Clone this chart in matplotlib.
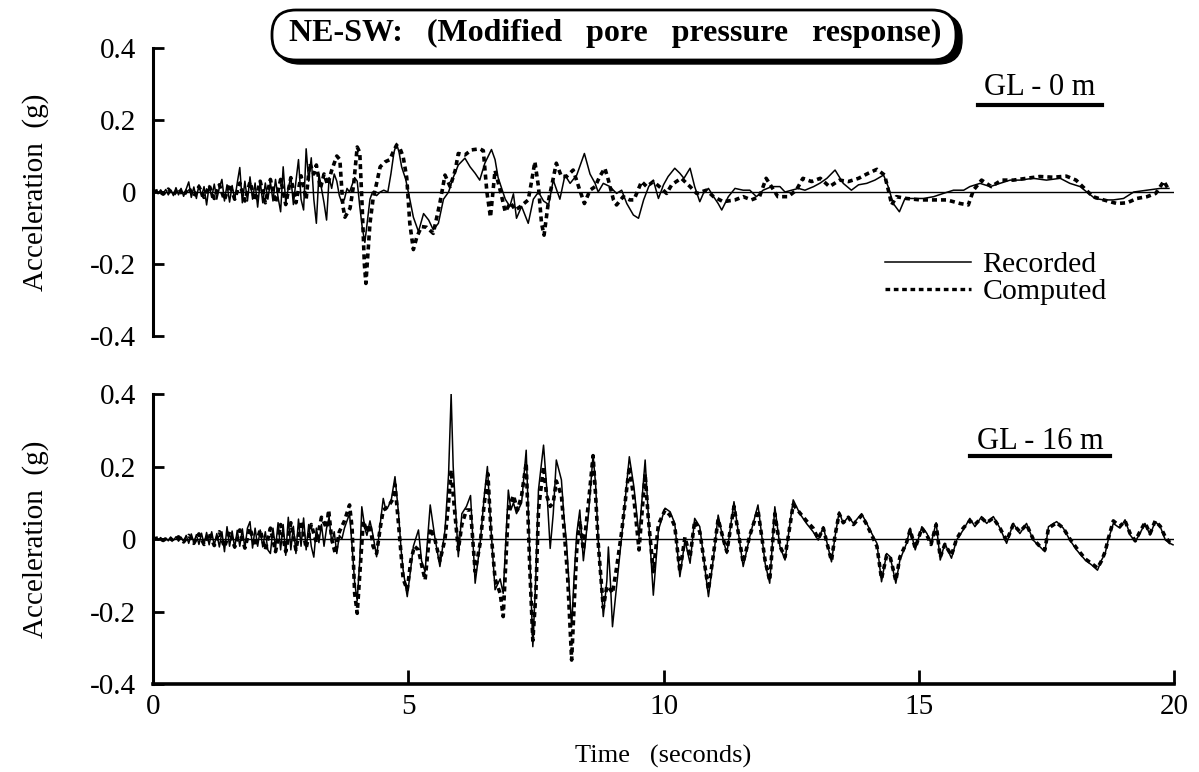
import matplotlib
matplotlib.use('Agg')
import matplotlib.pyplot as plt
from matplotlib.lines import Line2D
from matplotlib.patches import FancyBboxPatch
from matplotlib.transforms import IdentityTransform

TITLE = 'NE-SW:   (Modified   pore   pressure   response)'
DEPTH_LABELS = ['GL - 0 m', 'GL - 16 m']
SERIES_NAMES = ['Recorded', 'Computed']
Y_TICKS = [0.4, 0.2, 0.0, -0.2, -0.4]
Y_TICK_LABELS = ['0.4', '0.2', '0', '-0.2', '-0.4']
X_TICKS = [0, 5, 10, 15, 20]

# ---- GL - 0 m, recorded ----
rec0_t = [0.00, 0.05, 0.10, 0.15, 0.20, 0.25, 0.30, 0.35, 0.40, 0.45, 0.50, 0.55, 0.60, 0.65,
          0.70, 0.75, 0.80, 0.85, 0.90, 0.95, 1.00, 1.05, 1.10, 1.15, 1.20, 1.25, 1.30, 1.35,
          1.40, 1.45, 1.50, 1.55, 1.60, 1.65, 1.70, 1.75, 1.80, 1.85, 1.90, 1.95, 2.00, 2.05,
          2.10, 2.15, 2.20, 2.25, 2.30, 2.35, 2.40, 2.45, 2.50, 2.55, 2.60, 2.65, 2.70, 2.75,
          2.80, 2.85, 2.90, 2.95, 3.00, 3.05, 3.10, 3.15, 3.20, 3.25, 3.30, 3.35, 3.40, 3.45,
          3.50, 3.55, 3.60, 3.65, 3.70, 3.75, 3.80, 3.85, 3.90, 3.95, 4.00, 4.05, 4.10, 4.15,
          4.20, 4.25, 4.30, 4.38, 4.45, 4.52, 4.60, 4.66, 4.72, 4.77, 4.82, 4.87, 4.95, 5.03,
          5.10, 5.20, 5.30, 5.40, 5.49, 5.59, 5.69, 5.79, 5.88, 5.98, 6.11, 6.21, 6.31, 6.40,
          6.50, 6.63, 6.70, 6.76, 6.90, 6.99, 7.06, 7.12, 7.22, 7.35, 7.45, 7.55, 7.65, 7.75,
          7.84, 7.97, 8.07, 8.17, 8.30, 8.45, 8.56, 8.66, 8.72, 8.82, 8.95, 9.08, 9.18, 9.28,
          9.41, 9.51, 9.61, 9.71, 9.80, 9.90, 10.00, 10.09, 10.22, 10.32, 10.40, 10.52, 10.61,
          10.71, 10.78, 10.88, 10.98, 11.07, 11.14, 11.27, 11.40, 11.56, 11.69, 11.82, 11.95,
          12.12, 12.28, 12.38, 12.51, 12.64, 12.77, 12.94, 13.07, 13.20, 13.36, 13.52, 13.68,
          13.82, 13.98, 14.14, 14.31, 14.40, 14.50, 14.62, 14.73, 14.90, 15.09, 15.29, 15.48,
          15.68, 15.88, 16.00, 16.20, 16.40, 16.59, 16.79, 16.98, 17.24, 17.50, 17.77, 17.96,
          18.16, 18.29, 18.45, 18.62, 18.81, 19.01, 19.21, 19.47, 19.73, 19.90]
rec0_a = [0.000, 0.004, -0.005, 0.006, -0.004, 0.007, -0.008, 0.005, -0.010, 0.012, -0.008, 0.010,
          -0.012, 0.008, 0.028, -0.015, 0.014, -0.018, 0.020, -0.012, 0.015, -0.036, 0.018, -0.015,
          0.022, -0.020, 0.012, 0.035, -0.025, 0.020, -0.028, 0.018, -0.022, 0.025, 0.068, -0.030,
          0.030, -0.025, 0.042, -0.020, 0.025, -0.042, 0.030, -0.030, 0.025, -0.020, 0.028, -0.025,
          0.035, -0.015, -0.055, 0.070, -0.030, 0.010, 0.042, -0.035, 0.030, 0.090, -0.020, -0.050,
          0.120, 0.030, 0.095, -0.020, -0.087, 0.050, 0.010, -0.030, -0.078, 0.040, 0.010, 0.050,
          0.030, -0.010, -0.030, -0.020, 0.010, 0.000, 0.020, 0.040, 0.030, -0.040, -0.100, -0.140,
          -0.080, -0.020, 0.000, -0.010, 0.000, 0.005, 0.000, 0.050, 0.110, 0.135, 0.110, 0.070,
          0.035, -0.020, -0.070, -0.110, -0.060, -0.078, -0.105, -0.087, -0.020, 0.000, 0.040,
          0.075, 0.094, 0.070, 0.052, 0.033, 0.080, 0.118, 0.090, 0.040, -0.020, -0.040, -0.005,
          -0.073, -0.040, -0.087, -0.020, 0.000, -0.025, -0.035, 0.033, -0.020, 0.047, 0.024,
          0.047, 0.107, 0.050, 0.024, 0.000, 0.024, 0.015, -0.004, 0.005, -0.032, -0.064, -0.073,
          -0.022, 0.015, 0.033, -0.018, 0.020, 0.043, 0.066, 0.052, 0.038, 0.066, 0.015, -0.027,
          -0.004, 0.010, -0.013, -0.032, -0.050, -0.013, 0.010, 0.005, 0.005, -0.013, 0.005,
          0.015, 0.015, 0.000, 0.005, 0.010, 0.005, 0.015, 0.025, 0.038, 0.061, 0.024, 0.005,
          0.020, 0.024, 0.033, 0.047, 0.015, -0.032, -0.055, -0.018, -0.018, -0.018, -0.013,
          -0.004, 0.005, 0.005, 0.015, 0.024, 0.015, 0.024, 0.033, 0.033, 0.038, 0.033, 0.038,
          0.024, 0.015, 0.000, -0.018, -0.022, -0.022, -0.018, 0.000, 0.005, 0.010, 0.010]

# ---- GL - 0 m, computed ----
com0_t = [0.0, 0.1, 0.2, 0.3, 0.4, 0.5, 0.6, 0.7, 0.8, 0.9, 1.0, 1.1, 1.2, 1.3, 1.4, 1.5, 1.6,
          1.7, 1.8, 1.9, 2.0, 2.1, 2.2, 2.3, 2.4, 2.5, 2.6, 2.7, 2.8, 2.9, 3.0, 3.07, 3.15, 3.20,
          3.28, 3.35, 3.42, 3.50, 3.60, 3.66, 3.72, 3.76, 3.86, 3.93, 4.00, 4.05, 4.10, 4.14,
          4.17, 4.22, 4.25, 4.31, 4.38, 4.45, 4.55, 4.64, 4.70, 4.77, 4.84, 4.90, 4.97, 5.03,
          5.10, 5.17, 5.26, 5.36, 5.49, 5.62, 5.72, 5.82, 5.92, 5.98, 6.11, 6.24, 6.40, 6.47,
          6.54, 6.61, 6.70, 6.80, 6.90, 7.00, 7.10, 7.20, 7.35, 7.42, 7.48, 7.55, 7.61, 7.66,
          7.75, 7.84, 7.90, 8.00, 8.10, 8.23, 8.36, 8.45, 8.56, 8.66, 8.75, 8.85, 8.92, 9.02,
          9.08, 9.21, 9.34, 9.42, 9.57, 9.67, 9.80, 9.96, 10.06, 10.16, 10.25, 10.35, 10.52,
          10.65, 10.84, 10.98, 11.17, 11.40, 11.56, 11.72, 11.88, 12.01, 12.24, 12.44, 12.60,
          12.73, 12.90, 13.07, 13.25, 13.45, 13.62, 13.82, 14.01, 14.18, 14.33, 14.42, 14.47,
          14.56, 14.76, 15.03, 15.29, 15.55, 15.81, 15.97, 16.07, 16.23, 16.42, 16.62, 16.85,
          17.11, 17.37, 17.63, 17.89, 18.08, 18.28, 18.41, 18.62, 18.88, 19.08, 19.27, 19.47,
          19.64, 19.80, 19.90]
com0_a = [0.000, 0.004, -0.006, 0.008, -0.008, 0.010, -0.010, 0.012, -0.012, 0.015, -0.015, 0.018,
          -0.018, 0.020, -0.022, 0.022, -0.020, 0.025, -0.025, 0.028, -0.025, 0.030, -0.030, 0.035,
          -0.030, 0.035, -0.035, 0.040, -0.030, 0.045, -0.020, 0.080, 0.050, 0.075, 0.010, 0.050,
          0.020, 0.060, 0.100, 0.090, -0.040, -0.070, -0.045, 0.020, 0.125, 0.110, -0.050, -0.200,
          -0.254, -0.150, -0.087, -0.020, 0.024, 0.070, 0.084, 0.090, 0.110, 0.130, 0.120, 0.098,
          0.040, -0.087, -0.160, -0.124, -0.096, -0.098, -0.115, -0.030, 0.047, 0.015, 0.060,
          0.107, 0.103, 0.117, 0.120, 0.115, 0.000, -0.070, 0.060, 0.005, -0.055, -0.030, -0.050,
          -0.040, -0.022, 0.033, 0.084, 0.015, -0.087, -0.120, -0.022, 0.038, 0.080, 0.043, 0.043,
          0.061, 0.005, -0.032, 0.005, 0.015, 0.043, 0.066, 0.033, -0.022, -0.036, -0.013, -0.022,
          -0.022, 0.029, 0.015, 0.029, 0.010, -0.004, 0.020, 0.029, 0.038, 0.015, -0.004, 0.005,
          -0.013, -0.027, -0.022, -0.013, -0.022, -0.013, 0.038, -0.013, -0.013, 0.005, 0.038,
          0.029, 0.038, 0.015, 0.033, 0.029, 0.038, 0.052, 0.063, 0.047, -0.004, -0.036, -0.013,
          -0.018, -0.022, -0.022, -0.022, -0.032, -0.036, 0.005, 0.033, 0.015, 0.033, 0.033,
          0.038, 0.043, 0.041, 0.044, 0.033, 0.005, -0.013, -0.022, -0.032, -0.030, -0.018,
          -0.013, -0.004, 0.030, 0.005]

# ---- GL - 16 m, recorded ----
rec16_t = [0.00, 0.05, 0.10, 0.15, 0.20, 0.25, 0.30, 0.35, 0.40, 0.45, 0.50, 0.55, 0.60, 0.65,
           0.70, 0.75, 0.80, 0.85, 0.90, 0.95, 1.00, 1.05, 1.10, 1.15, 1.20, 1.25, 1.30, 1.35,
           1.40, 1.45, 1.50, 1.55, 1.60, 1.65, 1.70, 1.75, 1.80, 1.85, 1.90, 1.95, 2.00, 2.05,
           2.10, 2.15, 2.20, 2.25, 2.30, 2.35, 2.40, 2.45, 2.50, 2.55, 2.60, 2.65, 2.70, 2.75,
           2.80, 2.85, 2.90, 2.95, 3.00, 3.05, 3.10, 3.15, 3.20, 3.25, 3.30, 3.35, 3.40, 3.45,
           3.50, 3.55, 3.60, 3.65, 3.70, 3.75, 3.80, 3.85, 3.90, 3.95, 4.00, 4.05, 4.09, 4.15,
           4.19, 4.25, 4.31, 4.38, 4.45, 4.51, 4.56, 4.61, 4.67, 4.74, 4.81, 4.86, 4.90, 4.98,
           5.05, 5.10, 5.20, 5.26, 5.33, 5.43, 5.52, 5.62, 5.72, 5.79, 5.84, 5.88, 5.92, 5.98,
           6.05, 6.14, 6.22, 6.31, 6.41, 6.49, 6.55, 6.61, 6.70, 6.80, 6.86, 6.96, 7.01, 7.06,
           7.12, 7.22, 7.31, 7.38, 7.44, 7.50, 7.55, 7.65, 7.71, 7.78, 7.84, 7.90, 8.00, 8.05,
           8.10, 8.20, 8.25, 8.30, 8.36, 8.43, 8.53, 8.62, 8.67, 8.72, 8.82, 8.89, 8.92, 8.96,
           9.00, 9.08, 9.18, 9.33, 9.42, 9.52, 9.64, 9.70, 9.80, 9.90, 10.03, 10.13, 10.22,
           10.32, 10.42, 10.52, 10.61, 10.71, 10.88, 10.98, 11.07, 11.17, 11.24, 11.38, 11.56,
           11.69, 11.85, 11.99, 12.08, 12.18, 12.28, 12.38, 12.54, 12.67, 12.80, 12.93, 13.03,
           13.13, 13.19, 13.29, 13.36, 13.44, 13.52, 13.62, 13.72, 13.88, 13.98, 14.08, 14.18,
           14.27, 14.37, 14.44, 14.55, 14.63, 14.76, 14.83, 14.93, 15.06, 15.16, 15.24, 15.34,
           15.42, 15.51, 15.64, 15.74, 15.87, 16.00, 16.10, 16.23, 16.33, 16.46, 16.59, 16.72,
           16.85, 16.98, 17.11, 17.24, 17.37, 17.47, 17.54, 17.70, 17.83, 17.96, 18.09, 18.26,
           18.39, 18.50, 18.58, 18.65, 18.71, 18.81, 18.94, 19.04, 19.14, 19.24, 19.33, 19.43,
           19.53, 19.63, 19.73, 19.83, 19.92, 19.98]
rec16_a = [0.000, 0.003, -0.003, 0.004, -0.004, 0.003, -0.005, 0.005, -0.004, 0.006, -0.006, 0.005,
           -0.007, 0.010, -0.012, 0.014, -0.010, 0.012, -0.015, 0.016, -0.014, 0.018, -0.016, 0.020,
           -0.018, 0.015, -0.022, 0.020, -0.035, 0.034, -0.020, 0.022, -0.025, 0.024, -0.020, 0.028,
           -0.026, 0.030, 0.048, -0.025, 0.030, -0.020, 0.025, -0.022, 0.020, -0.030, -0.040, 0.030,
           -0.025, 0.045, -0.030, 0.040, -0.045, 0.060, -0.030, 0.035, -0.040, 0.055, -0.020, 0.058,
           -0.030, 0.040, -0.020, -0.050, 0.030, -0.010, 0.040, -0.020, 0.030, 0.060, -0.010, 0.020,
           -0.040, 0.010, 0.000, 0.030, 0.050, 0.070, -0.020, -0.120, -0.170, -0.060, 0.089, 0.030,
           0.010, 0.050, 0.010, -0.049, 0.040, 0.112, 0.080, 0.090, 0.110, 0.172, 0.070, -0.030,
           -0.086, -0.159, -0.080, -0.020, 0.025, -0.060, -0.090, 0.094, 0.005, -0.076, 0.025,
           0.180, 0.400, 0.200, 0.100, -0.049, 0.070, 0.090, 0.120, -0.122, -0.010, 0.120, 0.200,
           0.050, -0.140, -0.110, -0.150, 0.135, 0.080, 0.100, 0.070, 0.100, 0.245, -0.050, -0.297,
           -0.100, 0.135, 0.259, 0.145, -0.026, 0.070, 0.218, 0.163, 0.060, -0.010, -0.242, -0.100,
           0.015, 0.080, -0.060, 0.070, 0.232, 0.150, -0.003, -0.214, -0.115, -0.022, -0.120,
           -0.242, -0.130, 0.007, 0.227, 0.144, 0.007, 0.218, 0.070, -0.155, 0.025, 0.085, 0.075,
           0.043, -0.104, -0.003, -0.067, 0.057, 0.034, -0.159, -0.049, 0.066, -0.003, -0.040,
           0.103, -0.076, 0.007, 0.094, -0.067, -0.122, 0.089, -0.021, -0.058, 0.108, 0.070,
           0.043, 0.020, -0.003, 0.034, -0.003, -0.063, 0.007, 0.075, 0.043, 0.062, 0.043, 0.070,
           0.043, 0.015, -0.012, -0.118, -0.040, -0.049, -0.122, -0.058, -0.012, 0.030, -0.030,
           0.034, 0.015, -0.012, 0.045, -0.058, -0.012, -0.053, -0.003, 0.025, 0.057, 0.034, 0.062,
           0.043, 0.062, 0.030, -0.012, 0.043, 0.015, 0.043, -0.003, -0.021, -0.035, 0.034, 0.048,
           0.030, -0.003, -0.030, -0.058, -0.072, -0.086, -0.058, -0.040, -0.003, 0.043, 0.030,
           0.053, 0.011, -0.007, 0.015, 0.043, 0.011, 0.048, 0.034, -0.003, -0.012, -0.016]

# ---- GL - 16 m, computed ----
com16_t = [0.0, 0.1, 0.2, 0.3, 0.4, 0.5, 0.6, 0.7, 0.8, 0.9, 1.0, 1.1, 1.2, 1.3, 1.4, 1.5, 1.6,
           1.7, 1.8, 1.9, 2.0, 2.1, 2.2, 2.3, 2.4, 2.5, 2.6, 2.7, 2.8, 2.9, 3.0, 3.10, 3.20, 3.30,
           3.40, 3.44, 3.50, 3.57, 3.65, 3.75, 3.85, 3.90, 3.95, 4.00, 4.05, 4.12, 4.19, 4.25,
           4.31, 4.38, 4.45, 4.51, 4.61, 4.70, 4.74, 4.81, 4.90, 4.98, 5.05, 5.12, 5.20, 5.26,
           5.33, 5.43, 5.52, 5.62, 5.72, 5.79, 5.84, 5.90, 5.98, 6.05, 6.14, 6.22, 6.31, 6.41,
           6.49, 6.56, 6.62, 6.70, 6.80, 6.86, 6.96, 7.06, 7.14, 7.22, 7.31, 7.38, 7.44, 7.50,
           7.55, 7.65, 7.71, 7.78, 7.84, 7.90, 8.00, 8.05, 8.12, 8.20, 8.25, 8.30, 8.36, 8.43,
           8.53, 8.62, 8.67, 8.72, 8.82, 8.89, 8.96, 9.00, 9.08, 9.18, 9.33, 9.42, 9.52, 9.64,
           9.70, 9.80, 9.90, 10.03, 10.13, 10.22, 10.32, 10.42, 10.52, 10.61, 10.71, 10.88,
           10.98, 11.07, 11.17, 11.24, 11.38, 11.56, 11.69, 11.85, 11.99, 12.08, 12.18, 12.28,
           12.38, 12.54, 12.67, 12.80, 12.93, 13.03, 13.13, 13.19, 13.29, 13.36, 13.44, 13.52,
           13.62, 13.72, 13.88, 13.98, 14.08, 14.18, 14.27, 14.37, 14.44, 14.55, 14.63, 14.76,
           14.83, 14.93, 15.06, 15.16, 15.24, 15.34, 15.42, 15.51, 15.64, 15.74, 15.87, 16.00,
           16.10, 16.23, 16.33, 16.46, 16.59, 16.72, 16.85, 16.98, 17.11, 17.24, 17.37, 17.47,
           17.54, 17.70, 17.83, 17.96, 18.09, 18.26, 18.39, 18.50, 18.58, 18.65, 18.71, 18.81,
           18.94, 19.04, 19.14, 19.24, 19.33, 19.43, 19.53, 19.63, 19.73, 19.83, 19.92, 19.98]
com16_a = [0.000, 0.003, -0.004, 0.005, -0.005, 0.006, -0.008, 0.010, -0.012, 0.014, -0.015, 0.016,
           -0.018, 0.020, -0.022, 0.020, -0.022, 0.025, -0.025, 0.030, -0.020, 0.025, -0.030, 0.030,
           -0.035, 0.040, -0.035, 0.045, -0.030, 0.050, -0.025, 0.040, -0.010, 0.060, 0.030, 0.080,
           0.000, -0.040, 0.020, 0.050, 0.094, 0.030, -0.150, -0.205, -0.100, 0.050, 0.020, 0.040,
           -0.020, -0.040, 0.030, 0.080, 0.090, 0.110, 0.150, 0.040, -0.110, -0.140, -0.060,
           -0.020, -0.030, -0.070, -0.113, 0.030, 0.000, -0.060, 0.000, 0.100, 0.190, 0.090,
           -0.030, 0.040, 0.080, 0.080, -0.090, -0.010, 0.100, 0.180, 0.020, -0.110, -0.150,
           -0.214, 0.080, 0.120, 0.080, 0.120, 0.210, -0.080, -0.280, -0.150, 0.080, 0.200, 0.120,
           0.090, 0.100, 0.160, 0.120, 0.030, -0.100, -0.334, -0.180, -0.030, 0.050, -0.030, 0.100,
           0.230, 0.120, -0.010, -0.190, -0.130, -0.140, -0.150, -0.080, 0.020, 0.200, 0.110,
           -0.030, 0.180, 0.060, -0.090, 0.040, 0.080, 0.065, 0.035, -0.090, 0.005, -0.050, 0.050,
           0.020, -0.140, -0.040, 0.055, 0.000, -0.035, 0.090, -0.065, 0.010, 0.080, -0.060,
           -0.115, 0.070, -0.020, -0.050, 0.095, 0.072, 0.050, 0.030, 0.000, 0.030, -0.005,
           -0.060, 0.010, 0.070, 0.045, 0.060, 0.040, 0.065, 0.040, 0.010, -0.020, -0.110, -0.045,
           -0.050, -0.115, -0.050, -0.010, 0.025, -0.025, 0.030, 0.010, -0.015, 0.040, -0.050,
           -0.015, -0.045, 0.000, 0.030, 0.050, 0.040, 0.058, 0.045, 0.058, 0.030, -0.005, 0.040,
           0.020, 0.040, 0.000, -0.020, -0.030, 0.030, 0.045, 0.030, 0.000, -0.025, -0.055,
           -0.068, -0.080, -0.060, -0.035, 0.000, 0.050, 0.035, 0.050, 0.015, -0.005, 0.020,
           0.045, 0.015, 0.050, 0.035, 0.005, -0.010, -0.012]


def style_panel(ax, show_x):
    ax.set_xlim(0, 20)
    ax.set_ylim(-0.4, 0.4)
    ax.axhline(0, color='black', lw=1.0, zorder=1)
    for side in ['top', 'right']:
        ax.spines[side].set_visible(False)
    ax.spines['left'].set_linewidth(2.2)
    ax.set_yticks(Y_TICKS)
    ax.set_yticklabels(Y_TICK_LABELS)
    ax.tick_params(axis='y', direction='in', length=8, width=2, labelsize=21, pad=12)
    ax.set_ylabel('Acceleration  (g)', fontsize=21, labelpad=30)
    if show_x:
        ax.spines['bottom'].set_linewidth(2.6)
        ax.set_xticks(X_TICKS)
        ax.tick_params(axis='x', direction='in', length=10, width=2, labelsize=21, pad=7)
        ax.set_xlabel('Time   (seconds)', fontsize=19, labelpad=18)
    else:
        ax.spines['bottom'].set_visible(False)
        ax.set_xticks([])


def main():
    plt.rcParams['font.family'] = ['Liberation Serif', 'DejaVu Serif']
    fig = plt.figure(figsize=(11.99, 7.72), dpi=100)
    ax1 = fig.add_axes([0.1276, 0.5648, 0.8516, 0.3730])
    ax2 = fig.add_axes([0.1276, 0.1140, 0.8516, 0.3756])

    solid = dict(color='black', lw=1.1, zorder=3)
    dotted = dict(color='black', lw=2.6, dashes=(1.4, 1.1), zorder=2)

    ax1.plot(rec0_t, rec0_a, label=SERIES_NAMES[0], **solid)
    ax1.plot(com0_t, com0_a, label=SERIES_NAMES[1], **dotted)
    ax2.plot(rec16_t, rec16_a, **solid)
    ax2.plot(com16_t, com16_a, **dotted)

    style_panel(ax1, False)
    style_panel(ax2, True)

    leg = ax1.legend(loc='upper left', bbox_to_anchor=(0.705, 0.335), frameon=False,
                     fontsize=21.5, handlelength=2.9, handletextpad=0.37, labelspacing=0.0,
                     borderaxespad=0)
    for h in leg.get_lines():
        h.set_linewidth(1.1 if h.get_label() == SERIES_NAMES[0] else 2.4)

    # depth labels with underline
    fig.text(0.8674, 0.887, DEPTH_LABELS[0], fontsize=22, ha='center', va='center')
    fig.add_artist(Line2D([0.816, 0.919], [0.864, 0.864], color='black', lw=3))
    fig.text(0.8674, 0.4275, DEPTH_LABELS[1], fontsize=22, ha='center', va='center')
    fig.add_artist(Line2D([0.809, 0.926], [0.409, 0.409], color='black', lw=3))

    # title in a rounded box with a drop shadow (pixel coords)
    h = 772
    shadow = FancyBboxPatch((276, h - 64), 686, 50, boxstyle='round,pad=0,rounding_size=24',
                            transform=IdentityTransform(), facecolor='black', edgecolor='black')
    box = FancyBboxPatch((272, h - 60), 684, 50, boxstyle='round,pad=0,rounding_size=24',
                         transform=IdentityTransform(), facecolor='white', edgecolor='black', lw=2)
    fig.add_artist(shadow)
    fig.add_artist(box)
    fig.text(0.513, 0.957, TITLE, fontsize=23, fontweight='bold', ha='center', va='center')

    fig.savefig('out.png', dpi=100)


if __name__ == '__main__':
    main()
